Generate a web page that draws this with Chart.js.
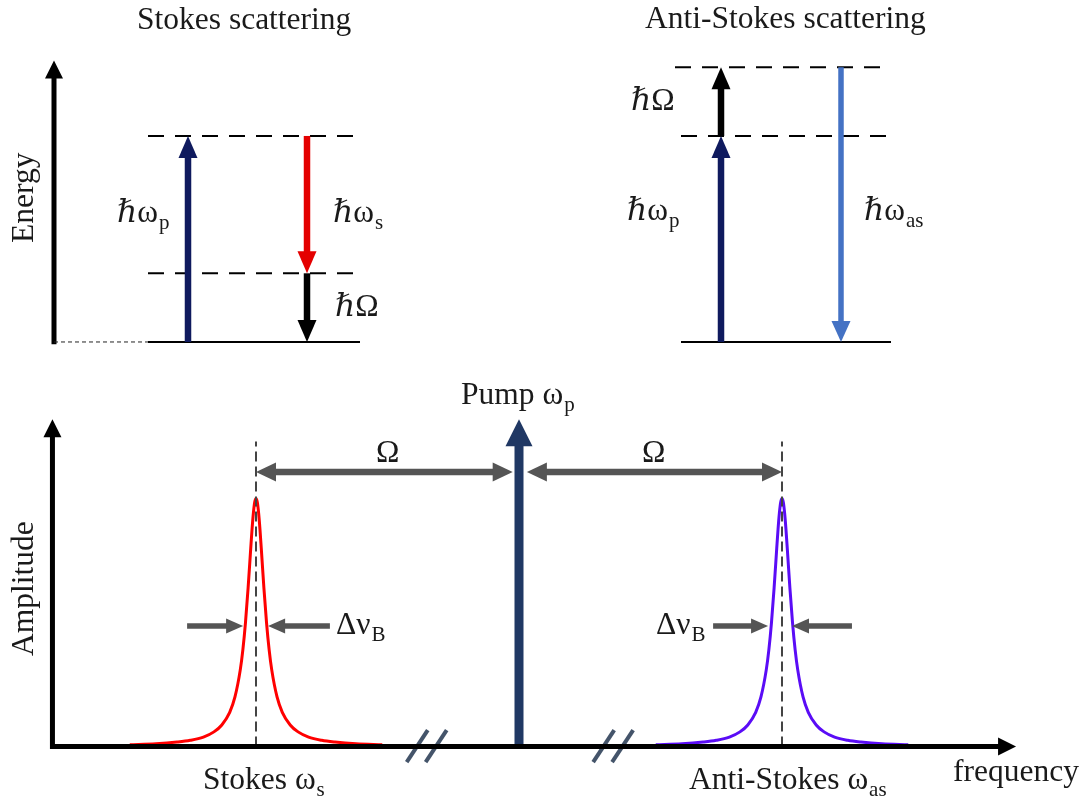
<!DOCTYPE html>
<html>
<head>
<meta charset="utf-8">
<script src="https://cdn.jsdelivr.net/npm/chart.js@4.4.1/dist/chart.umd.min.js"></script>
<style>
  html, body { margin: 0; padding: 0; background: #fff; }
  #wrap { width: 1086px; height: 798px; position: relative; }
</style>
</head>
<body>
<div id="wrap"><canvas id="scatteringChart"></canvas></div>
<script>
// energy levels, in units of hbar*Omega (ground state = 0)
const groundLevel = 0;
const phononLevel = 1;
const pumpLevel = 3;
const antiStokesLevel = 4;
const energyAxisTop = 4.1;

// spectrum, frequency in units of the Brillouin shift Omega (pump = 0)
const stokesFreq = -1;
const pumpFreq = 0;
const antiStokesFreq = 1;
const pumpAmp = 1.32;
const ampAxisTop = 1.32;
const freqAxisStart = -1.774;
const freqAxisEnd = 1.89;
const shiftArrowAmp = 1.107;
const markerTop = 1.23;
const halfWidthAmp = 0.486;
const axisBreaks = [-0.351, 0.358];

// line shape around each peak: offset from line centre, relative amplitude
const lineOffsets = [-0.48, -0.38, -0.30, -0.25, -0.20, -0.16, -0.13, -0.10, -0.08, -0.06, -0.05, -0.04, -0.03, -0.02, -0.015, -0.01, -0.005, 0,
  0.005, 0.01, 0.015, 0.02, 0.03, 0.04, 0.05, 0.06, 0.08, 0.10, 0.13, 0.16, 0.20, 0.25, 0.30, 0.38, 0.48];
const stokesShape = [0.007, 0.011, 0.018, 0.025, 0.038, 0.059, 0.087, 0.138, 0.200, 0.308, 0.390, 0.500, 0.640, 0.800, 0.877, 0.941, 0.985, 1.000,
  0.985, 0.941, 0.877, 0.800, 0.640, 0.500, 0.390, 0.308, 0.200, 0.138, 0.087, 0.059, 0.038, 0.025, 0.018, 0.011, 0.007];
const antiStokesShape = [0.007, 0.011, 0.018, 0.025, 0.038, 0.059, 0.087, 0.138, 0.200, 0.308, 0.390, 0.500, 0.640, 0.800, 0.877, 0.941, 0.985, 1.000,
  0.985, 0.941, 0.877, 0.800, 0.640, 0.500, 0.390, 0.308, 0.200, 0.138, 0.087, 0.059, 0.038, 0.025, 0.018, 0.011, 0.007];

// linewidth arrows (tail, tip) in frequency units
const stokesWidthArrows = [[-1.262, -1.049], [-0.719, -0.954]];
const antiStokesWidthArrows = [[0.738, 0.947], [1.266, 1.038]];

// horizontal placement of the two level diagrams
const lay = {
  axisX: 54,
  stokesLeft: 148, stokesRight: 358, stokesPumpX: 188, stokesOutX: 307,
  antiLeft: 681, antiRight: 891, antiTopLeft: 675, antiTopRight: 884, antiPumpX: 721, antiOutX: 841
};

const colors = {
  navy: '#0f1a5e',
  red: '#e40000',
  lightBlue: '#4472c4',
  pump: '#203864',
  gray: '#555555',
  breakMark: '#44546a',
  stokes: '#ff0000',
  antiStokes: '#5a0cf6',
  text: '#1a1a1a'
};

const datasets = [];

function addLine(pts, xAxisID, yAxisID, color, width, dash) {
  datasets.push({
    data: pts.map(p => ({x: p[0], y: p[1]})),
    xAxisID: xAxisID, yAxisID: yAxisID,
    borderColor: color, borderWidth: width, borderDash: dash || [],
    pointRadius: 0, fill: false, tension: 0
  });
}

function addArrow(from, to, xAxisID, yAxisID, style) {
  datasets.push({
    data: [{x: from[0], y: from[1]}, {x: to[0], y: to[1]}],
    xAxisID: xAxisID, yAxisID: yAxisID,
    showLine: false, pointRadius: 0,
    arrow: style
  });
}

const levelArrow = c => ({color: c, width: 6.5, headW: 19, headL: 22});
const axisArrow = {color: '#000', width: 5, headW: 18, headL: 18};

// --- Stokes level diagram
addLine([[lay.axisX, groundLevel], [lay.stokesLeft, groundLevel]], 'lx', 'energy', '#222', 1, [4, 3]);
addArrow([lay.stokesPumpX, groundLevel], [lay.stokesPumpX, pumpLevel], 'lx', 'energy', levelArrow(colors.navy));
addArrow([lay.stokesOutX, pumpLevel], [lay.stokesOutX, phononLevel], 'lx', 'energy', levelArrow(colors.red));
addArrow([lay.stokesOutX, phononLevel], [lay.stokesOutX, groundLevel], 'lx', 'energy', levelArrow('#000'));
addLine([[lay.stokesLeft, groundLevel], [lay.stokesRight + 2, groundLevel]], 'lx', 'energy', '#000', 2);
addLine([[lay.stokesLeft, pumpLevel], [lay.stokesRight, pumpLevel]], 'lx', 'energy', '#000', 2, [16, 11]);
addLine([[lay.stokesLeft, phononLevel], [lay.stokesRight, phononLevel]], 'lx', 'energy', '#000', 2, [16, 11]);
addArrow([lay.axisX, groundLevel - 0.035], [lay.axisX, energyAxisTop], 'lx', 'energy', axisArrow);

// --- anti-Stokes level diagram
addArrow([lay.antiPumpX, groundLevel], [lay.antiPumpX, pumpLevel], 'lx', 'energy', levelArrow(colors.navy));
addArrow([lay.antiPumpX, pumpLevel], [lay.antiPumpX, antiStokesLevel], 'lx', 'energy', levelArrow('#000'));
addArrow([lay.antiOutX, antiStokesLevel], [lay.antiOutX, groundLevel], 'lx', 'energy', {color: colors.lightBlue, width: 5.5, headW: 19, headL: 21});
addLine([[lay.antiLeft, groundLevel], [lay.antiRight, groundLevel]], 'lx', 'energy', '#000', 2);
addLine([[lay.antiLeft, pumpLevel], [lay.antiRight - 2, pumpLevel]], 'lx', 'energy', '#000', 2, [16, 11]);
addLine([[lay.antiTopLeft, antiStokesLevel], [lay.antiTopRight, antiStokesLevel]], 'lx', 'energy', '#000', 2, [16, 11]);

// --- spectrum
const grayArrow = {color: colors.gray, width: 6.5, headW: 19, headL: 20};
const widthArrow = {color: colors.gray, width: 5.5, headW: 15, headL: 17};

addArrow([freqAxisStart, 0], [freqAxisEnd, 0], 'freq', 'amp', axisArrow);
addArrow([freqAxisStart, -0.01], [freqAxisStart, ampAxisTop], 'freq', 'amp', axisArrow);

axisBreaks.forEach(b => {
  [-0.036, 0.036].forEach(d => {
    addLine([[b + d - 0.04, -0.063], [b + d + 0.04, 0.066]], 'freq', 'amp', colors.breakMark, 4);
  });
});

addArrow([pumpFreq, 0], [pumpFreq, pumpAmp], 'freq', 'amp', {color: colors.pump, width: 9, headW: 27, headL: 27});

addArrow([stokesFreq, shiftArrowAmp], [pumpFreq - 0.024, shiftArrowAmp], 'freq', 'amp', Object.assign({both: true}, grayArrow));
addArrow([pumpFreq + 0.03, shiftArrowAmp], [antiStokesFreq, shiftArrowAmp], 'freq', 'amp', Object.assign({both: true}, grayArrow));

stokesWidthArrows.concat(antiStokesWidthArrows).forEach(a => {
  addArrow([a[0], halfWidthAmp], [a[1], halfWidthAmp], 'freq', 'amp', widthArrow);
});

addLine([[stokesFreq, 0], [stokesFreq, markerTop]], 'freq', 'amp', '#444', 2, [10, 5]);
addLine([[antiStokesFreq, 0], [antiStokesFreq, markerTop]], 'freq', 'amp', '#444', 2, [10, 5]);

function peakData(centre, shape) {
  return lineOffsets.map((o, i) => ({x: centre + o, y: shape[i]}));
}

datasets.push({
  data: peakData(stokesFreq, stokesShape), xAxisID: 'freq', yAxisID: 'amp',
  borderColor: colors.stokes, borderWidth: 3, pointRadius: 0, fill: false,
  cubicInterpolationMode: 'monotone'
});
datasets.push({
  data: peakData(antiStokesFreq, antiStokesShape), xAxisID: 'freq', yAxisID: 'amp',
  borderColor: colors.antiStokes, borderWidth: 3, pointRadius: 0, fill: false,
  cubicInterpolationMode: 'monotone'
});

// text: main part, optional subscript, left edge and baseline
const FONT = '"Liberation Serif", "DejaVu Serif", serif';
const labels = [
  {t: 'Stokes scattering', x: 137, y: 29},
  {t: 'Anti-Stokes scattering', x: 645, y: 28},
  {t: 'Energy', x: 33, y: 243, rot: true},
  {t: 'ℏω', s: 'p', x: 117, y: 222},
  {t: 'ℏω', s: 's', x: 333, y: 222},
  {t: 'ℏΩ', x: 335, y: 316},
  {t: 'ℏΩ', x: 631, y: 110},
  {t: 'ℏω', s: 'p', x: 627, y: 220},
  {t: 'ℏω', s: 'as', x: 864, y: 220},
  {t: 'Pump ω', s: 'p', x: 461, y: 404},
  {t: 'Ω', x: 376, y: 462},
  {t: 'Ω', x: 642, y: 462},
  {t: 'Δν', s: 'B', x: 336, y: 634},
  {t: 'Δν', s: 'B', x: 656, y: 634},
  {t: 'Amplitude', x: 33, y: 656, rot: true},
  {t: 'Stokes ω', s: 's', x: 203, y: 789},
  {t: 'Anti-Stokes ω', s: 'as', x: 689, y: 789},
  {t: 'frequency', x: 953, y: 781}
];

function drawHead(ctx, tx, ty, ux, uy, s) {
  const bx = tx - ux * s.headL, by = ty - uy * s.headL;
  const nx = -uy * s.headW / 2, ny = ux * s.headW / 2;
  ctx.beginPath();
  ctx.moveTo(tx, ty);
  ctx.lineTo(bx + nx, by + ny);
  ctx.lineTo(bx - nx, by - ny);
  ctx.closePath();
  ctx.fill();
}

const arrowPlugin = {
  id: 'arrows',
  afterDatasetDraw(chart, args) {
    const ds = chart.data.datasets[args.index];
    if (!ds.arrow) return;
    const s = ds.arrow;
    const a = args.meta.data[0], b = args.meta.data[1];
    const dx = b.x - a.x, dy = b.y - a.y, len = Math.hypot(dx, dy);
    const ux = dx / len, uy = dy / len;
    const ctx = chart.ctx;
    ctx.save();
    ctx.strokeStyle = s.color;
    ctx.fillStyle = s.color;
    ctx.lineWidth = s.width;
    ctx.lineCap = 'butt';
    const back = s.headL - 1;
    const sx = s.both ? a.x + ux * back : a.x, sy = s.both ? a.y + uy * back : a.y;
    ctx.beginPath();
    ctx.moveTo(sx, sy);
    ctx.lineTo(b.x - ux * back, b.y - uy * back);
    ctx.stroke();
    drawHead(ctx, b.x, b.y, ux, uy, s);
    if (s.both) drawHead(ctx, a.x, a.y, -ux, -uy, s);
    ctx.restore();
  }
};

const textPlugin = {
  id: 'labels',
  afterDraw(chart) {
    const ctx = chart.ctx;
    ctx.save();
    ctx.fillStyle = colors.text;
    ctx.textBaseline = 'alphabetic';
    ctx.textAlign = 'left';
    labels.forEach(l => {
      ctx.save();
      ctx.translate(l.x, l.y);
      if (l.rot) ctx.rotate(-Math.PI / 2);
      ctx.font = '31.5px ' + FONT;
      ctx.fillText(l.t, 0, 0);
      if (l.s) {
        const w = ctx.measureText(l.t).width;
        ctx.font = '21px ' + FONT;
        ctx.fillText(l.s, w + 1, 7);
      }
      ctx.restore();
    });
    ctx.restore();
  }
};

new Chart(document.getElementById('scatteringChart'), {
  type: 'line',
  data: {datasets: datasets},
  options: {
    responsive: true,
    maintainAspectRatio: false,
    animation: false,
    layout: {padding: 0},
    plugins: {legend: {display: false}, tooltip: {enabled: false}},
    scales: {
      lx: {type: 'linear', axis: 'x', display: false, min: 0, max: 1086},
      energy: {type: 'linear', axis: 'y', display: false, min: -6.641, max: 4.980},
      freq: {type: 'linear', axis: 'x', display: false, min: -1.9734, max: 2.1559},
      amp: {type: 'linear', axis: 'y', display: false, min: -0.2076, max: 3.0101}
    }
  },
  plugins: [arrowPlugin, textPlugin]
});
</script>
</body>
</html>
